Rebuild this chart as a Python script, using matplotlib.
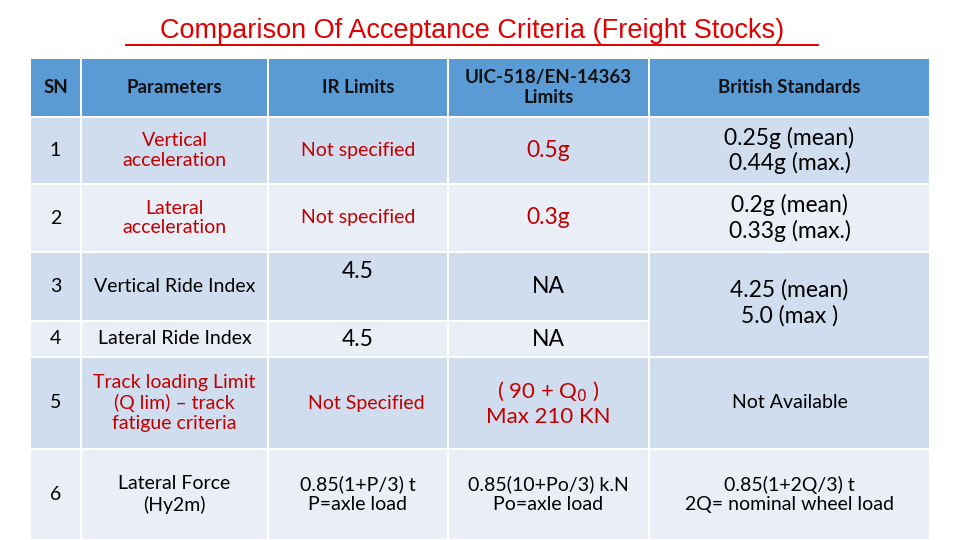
import matplotlib.pyplot as plt
from matplotlib.patches import Rectangle

plt.rcParams['font.family'] = ['Lato', 'DejaVu Sans']

title = "Comparison Of Acceptance Criteria (Freight Stocks)"
headers = ["SN", "Parameters", "IR Limits", "UIC-518/EN-14363\nLimits", "British Standards"]
sn = ["1", "2", "3", "4", "5", "6"]
params = ["Vertical\nacceleration", "Lateral\nacceleration", "Vertical Ride Index",
          "Lateral Ride Index", "Track loading Limit\n(Q lim) \u2013 track\nfatigue criteria",
          "Lateral Force\n(Hy2m)"]
ir_limits = ["Not specified", "Not specified", "4.5", "4.5", "Not Specified",
             "0.85(1+P/3) t\nP=axle load"]
uic_limits = ["0.5g", "0.3g", "NA", "NA", "( 90 + Q$_0$ )\nMax 210 KN",
              "0.85(10+Po/3) k.N\nPo=axle load"]
british = ["0.25g (mean)\n0.44g (max.)", "0.2g (mean)\n0.33g (max.)",
           "4.25 (mean)\n5.0 (max )", None, "Not Available",
           "0.85(1+2Q/3) t\n2Q= nominal wheel load"]
red_rows = [0, 1, 4]

# layout in pixels
col_x = [30, 81, 268, 448, 649, 930]
row_y = [58, 117, 184, 252, 321, 357, 449, 540]

HEAD = "#5B9BD5"
DARK = "#CFDDEE"
LIGHT = "#E9EEF7"
RED = "#C00000"

fig = plt.figure(figsize=(9.6, 5.4), dpi=100)
ax = fig.add_axes([0, 0, 1, 1])
ax.set_xlim(0, 960)
ax.set_ylim(540, 0)
ax.axis("off")

ax.text(472, 31, title, ha="center", va="center", fontsize=19.5,
        color="#E00000", family="Liberation Sans")
ax.plot([126, 818], [45, 45], color="#E00000", lw=1.4)

def cell(x0, x1, y0, y1, color):
    ax.add_patch(Rectangle((x0 + 1, y0 + 1), x1 - x0 - 2, y1 - y0 - 2,
                           facecolor=color, edgecolor="none"))

for c, h in enumerate(headers):
    cell(col_x[c], col_x[c + 1], row_y[0], row_y[1], HEAD)
    ax.text((col_x[c] + col_x[c + 1]) / 2, (row_y[0] + row_y[1]) / 2, h,
            ha="center", va="center", fontsize=13.5, fontweight="bold",
            color="#111111", linespacing=1.25)

for r in range(6):
    y0, y1 = row_y[r + 1], row_y[r + 2]
    color = DARK if r % 2 == 0 else LIGHT
    yc = (y0 + y1) / 2
    tcol = RED if r in red_rows else "black"
    vals = [sn[r], params[r], ir_limits[r], uic_limits[r]]
    for c in range(4):
        cell(col_x[c], col_x[c + 1], y0, y1, color)
        xc = (col_x[c] + col_x[c + 1]) / 2
        fs = 14
        yy = yc
        tc = "black" if c == 0 else tcol
        if c == 3 and r < 4:
            fs = 16.5
        if c == 2 and r in (2, 3):
            fs = 16.5
        if c == 2 and r == 2:
            yy = y0 + 20
        if c == 3 and r == 4:
            fs = 16
        if c == 2 and r == 4:
            xc += 8
        ax.text(xc, yy, vals[c], ha="center", va="center", fontsize=fs,
                color=tc, linespacing=1.2)
    if r == 2:
        cell(col_x[4], col_x[5], y0, row_y[r + 3], DARK)
        ax.text((col_x[4] + col_x[5]) / 2, (y0 + row_y[r + 3]) / 2 - 2,
                british[r], ha="center", va="center", fontsize=16.5, linespacing=1.25)
    elif british[r] is not None:
        cell(col_x[4], col_x[5], y0, y1, color)
        fs = 16.5 if r < 2 else 14
        ax.text((col_x[4] + col_x[5]) / 2, yc, british[r], ha="center",
                va="center", fontsize=fs, linespacing=1.2)

fig.savefig("out.png", dpi=100)
